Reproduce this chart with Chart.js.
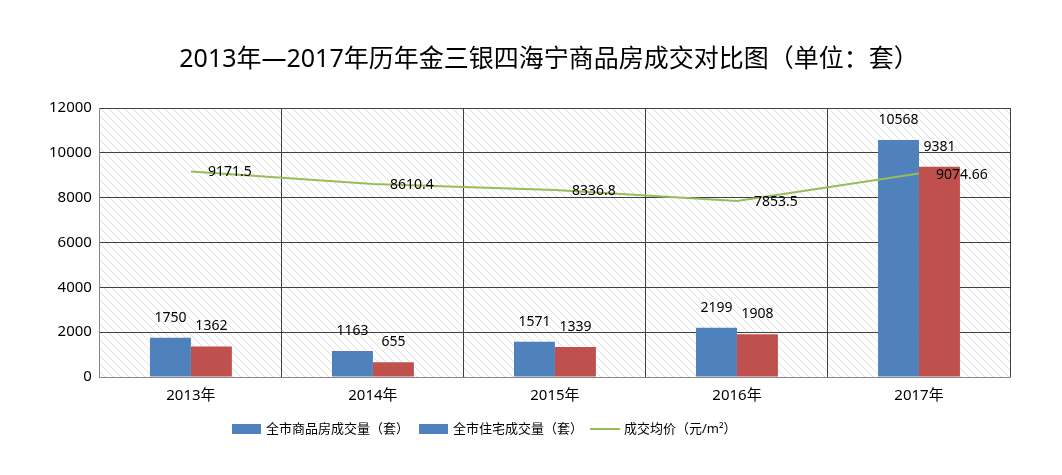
<!DOCTYPE html>
<html>
<head>
<meta charset="utf-8">
<script src="https://cdn.jsdelivr.net/npm/chart.js@4"></script>
<style>
  html, body { margin: 0; padding: 0; background: #fff; }
  #wrap { width: 1062px; height: 475px; }
</style>
</head>
<body>
<div id="wrap"><canvas id="myChart"></canvas></div>
<script>
var years = ['2013年', '2014年', '2015年', '2016年', '2017年'];
var allSales = [1750, 1163, 1571, 2199, 10568];
var homeSales = [1362, 655, 1339, 1908, 9381];
var avgPrice = [9171.5, 8610.4, 8336.8, 7853.5, 9074.66];
var yTicks = [0, 2000, 4000, 6000, 8000, 10000, 12000];
var seriesNames = ['全市商品房成交量（套）', '全市住宅成交量（套）', '成交均价（元/m²）'];
var chartTitle = '2013年—2017年历年金三银四海宁商品房成交对比图（单位：套）';

var FONT = '"Noto Sans", "Noto Sans CJK SC", sans-serif';
Chart.defaults.font.family = FONT;
Chart.defaults.color = '#000';

// diagonal hatch behind the plot + the title
var hatchPlugin = {
  id: 'hatch',
  beforeDraw: function(chart) {
    var a = chart.chartArea, ctx = chart.ctx, s = 8;
    var tile = document.createElement('canvas');
    tile.width = s; tile.height = s;
    var t = tile.getContext('2d');
    t.strokeStyle = '#dedede';
    t.lineWidth = 1;
    t.beginPath();
    t.moveTo(-1, -1); t.lineTo(s + 1, s + 1);
    t.moveTo(-1, s - 1); t.lineTo(1, s + 1);
    t.moveTo(s - 1, -1); t.lineTo(s + 1, 1);
    t.stroke();
    ctx.save();
    ctx.fillStyle = ctx.createPattern(tile, 'repeat');
    ctx.fillRect(a.left, a.top, a.right - a.left, a.bottom - a.top);

    ctx.fillStyle = '#000';
    ctx.font = '25px ' + FONT;
    ctx.textAlign = 'center';
    ctx.textBaseline = 'middle';
    ctx.fillText(chartTitle, 549, 60);
    ctx.restore();
  }
};

// value labels
var labelPlugin = {
  id: 'valueLabels',
  afterDatasetsDraw: function(chart) {
    var ctx = chart.ctx;
    ctx.save();
    ctx.fillStyle = '#000';
    ctx.textBaseline = 'middle';
    ctx.font = '14px ' + FONT;
    chart.data.datasets.forEach(function(ds, di) {
      var meta = chart.getDatasetMeta(di);
      meta.data.forEach(function(el, i) {
        if (ds.type === 'line') {
          ctx.textAlign = 'left';
          ctx.fillText(String(ds.data[i]), el.x + 17, el.y + 1);
        } else {
          ctx.textAlign = 'center';
          ctx.fillText(String(ds.data[i]), el.x, el.y - 20);
        }
      });
    });
    ctx.restore();
  }
};

// legend at bottom (second swatch is blue in the original too)
var legendPlugin = {
  id: 'bottomLegend',
  afterDraw: function(chart) {
    var ctx = chart.ctx;
    var swatch = ['#4F81BD', '#4F81BD', '#9BBB59'];
    var starts = [232, 419, 590];
    var y = 429;
    ctx.save();
    ctx.font = '13px ' + FONT;
    ctx.textBaseline = 'middle';
    ctx.textAlign = 'left';
    seriesNames.forEach(function(name, i) {
      var x = starts[i];
      if (i < 2) {
        ctx.fillStyle = swatch[i];
        ctx.fillRect(x, y - 5, 29, 10);
      } else {
        ctx.strokeStyle = swatch[i];
        ctx.lineWidth = 2;
        ctx.beginPath();
        ctx.moveTo(x, y); ctx.lineTo(x + 30, y);
        ctx.stroke();
      }
      ctx.fillStyle = '#000';
      ctx.fillText(name, x + 34, y);
    });
    ctx.restore();
  }
};

var ctx = document.getElementById('myChart').getContext('2d');
var myChart = new Chart(ctx, {
  type: 'bar',
  data: {
    labels: years,
    datasets: [
      {
        type: 'line',
        label: seriesNames[2],
        data: avgPrice,
        borderColor: '#9BBB59',
        backgroundColor: '#9BBB59',
        borderWidth: 2,
        pointRadius: 0,
        tension: 0,
        order: 0
      },
      {
        label: seriesNames[0],
        data: allSales,
        backgroundColor: '#4F81BD',
        categoryPercentage: 0.45,
        barPercentage: 1,
        order: 1
      },
      {
        label: seriesNames[1],
        data: homeSales,
        backgroundColor: '#C0504D',
        categoryPercentage: 0.45,
        barPercentage: 1,
        order: 1
      }
    ]
  },
  options: {
    responsive: true,
    maintainAspectRatio: false,
    animation: false,
    layout: { padding: { left: 41, right: 52, top: 108, bottom: 60 } },
    plugins: {
      legend: { display: false },
      tooltip: { enabled: false },
      title: { display: false }
    },
    scales: {
      x: {
        grid: { color: '#404040', offset: true, drawTicks: false },
        border: { color: '#888888' },
        ticks: { font: { size: 15 }, color: '#000', padding: 10 }
      },
      y: {
        min: 0,
        max: 12000,
        afterBuildTicks: function(axis) {
          axis.ticks = yTicks.map(function(v) { return { value: v }; });
        },
        grid: { color: '#404040', drawTicks: false },
        border: { color: '#888888' },
        ticks: {
          font: { size: 15 },
          color: '#000',
          padding: 8,
          callback: function(v) { return String(v); }
        }
      }
    }
  },
  plugins: [hatchPlugin, labelPlugin, legendPlugin]
});
</script>
</body>
</html>
